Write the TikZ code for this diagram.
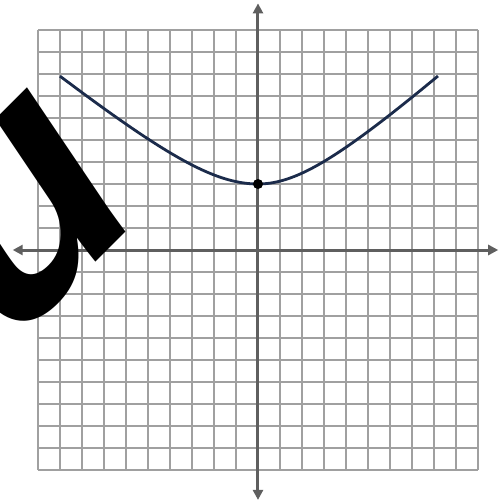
\documentclass[tikz,border=0pt]{standalone}
\usepackage{fontspec}
\newfontfamily\glyphfont{Liberation Sans}
\usetikzlibrary{arrows.meta}
\definecolor{axisgray}{HTML}{5F5F5F}
\definecolor{gridgray}{HTML}{A0A0A0}
\definecolor{curvenavy}{HTML}{1B2B4B}
\begin{document}
\begin{tikzpicture}[x=22pt,y=22pt,
  gridline/.style={draw=gridgray,line width=1.2pt},
  axisline/.style={draw=axisgray,line width=3pt,{Triangle[width=10pt,length=10pt]}-{Triangle[width=10pt,length=10pt]}},
  graphcurve/.style={draw=curvenavy,line width=2.8pt},
  vertexdot/.style={circle,fill=black,inner sep=0pt,minimum size=10pt},
  bigglyph/.style={font=\glyphfont\bfseries\itshape\fontsize{325pt}{325pt}\selectfont,rotate=45,anchor=base west,inner sep=0pt,text=black}]
\useasboundingbox (-258pt,-254pt) rectangle (242pt,250pt);
\clip (-258pt,-254pt) rectangle (242pt,250pt);
\draw[gridline,step=22pt] (-10,-10) grid (10,10);
\coordinate (xl) at (-11.15,0);
\coordinate (xr) at (10.92,0);
\coordinate (yb) at (0,-11.36);
\coordinate (yt) at (0,11.21);
\draw[axisline] (xl) -- (xr);
\draw[axisline] (yb) -- (yt);
\draw[graphcurve] plot[domain=-9:0,samples=60,smooth] (\x,{sqrt(9+0.66*\x*\x)}) -- plot[domain=0:8.18,samples=60,smooth] (\x,{sqrt(9+0.8*\x*\x)});
\node[vertexdot] (v) at (0,3) {};
\node[bigglyph] (u) at (-246pt,-96pt) {u};
\end{tikzpicture}
\end{document}
